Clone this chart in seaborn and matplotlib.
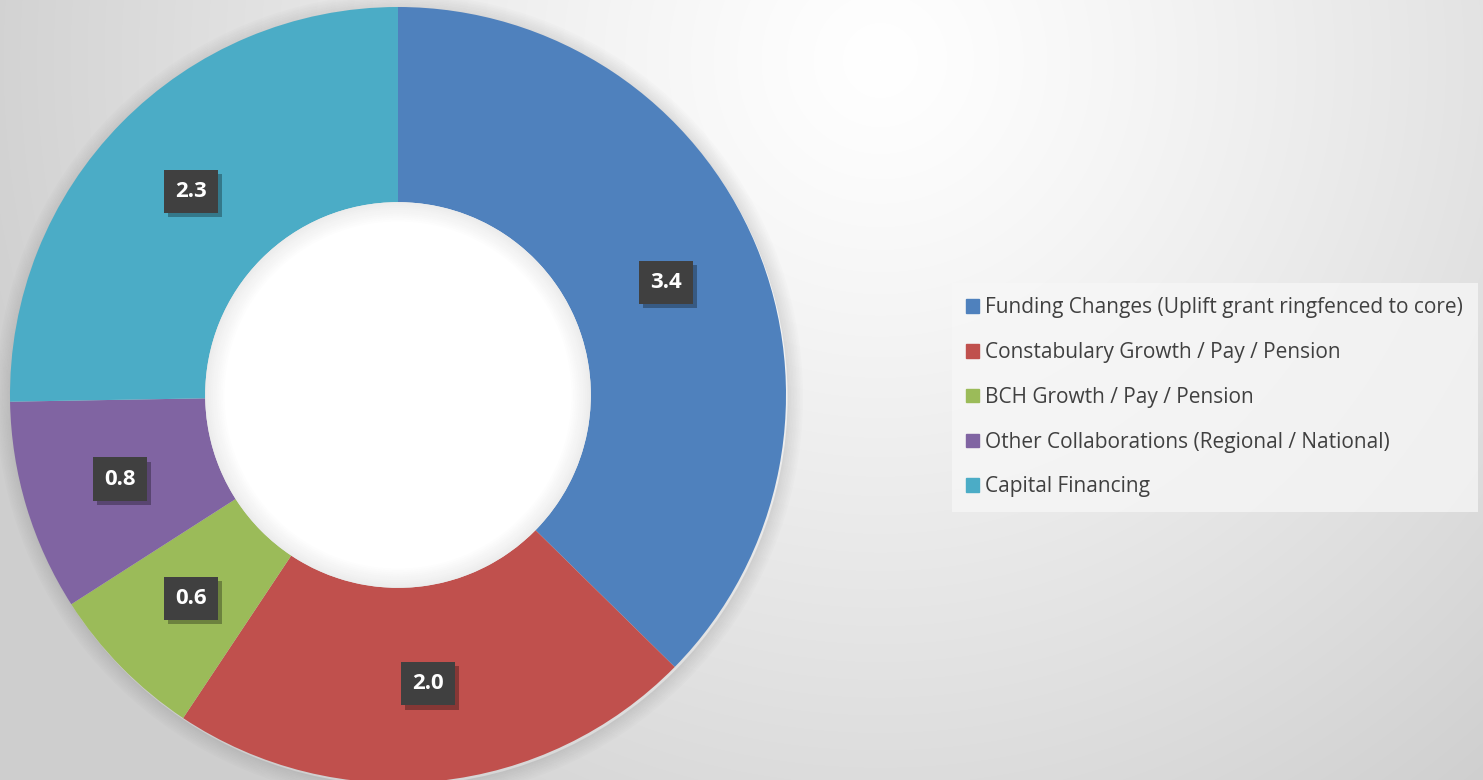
import numpy as np
import matplotlib
matplotlib.use("Agg")
import matplotlib.pyplot as plt
import matplotlib.patches as mpatches
import matplotlib.patheffects as pe
import seaborn as sns

categories = [
    "Funding Changes (Uplift grant ringfenced to core)",
    "Constabulary Growth / Pay / Pension",
    "BCH Growth / Pay / Pension",
    "Other Collaborations (Regional / National)",
    "Capital Financing",
]
values = [3.4, 2.0, 0.6, 0.8, 2.3]
colors = ["#4F81BD", "#C0504D", "#9BBB59", "#8064A2", "#4BACC6"]

sns.set_theme(style="white")
plt.rcParams["font.family"] = ["Open Sans", "DejaVu Sans"]

W, H = 1483, 780
fig = plt.figure(figsize=(W / 100, H / 100), dpi=100)

# background radial gradient
bg = fig.add_axes([0, 0, 1, 1])
yy, xx = np.mgrid[0:H, 0:W]
d = np.hypot(xx - 880, yy - 60) / 950.0
d = np.clip(d, 0, 1)
shade = 1.0 - 0.19 * d ** 1.2
img = np.dstack([shade, shade, shade])
bg.imshow(img, extent=[0, W, H, 0], aspect="auto", zorder=0)
bg.set_axis_off()

cx, cy, R = 398, 395, 388
ax = fig.add_axes([(cx - R) / W, (H - cy - R) / H, 2 * R / W, 2 * R / H])
ax.set_facecolor("none")

inner = 0.497

# soft outer shadow (rings just outside the donut)
n = 10
for i in range(n):
    r = 1.0 + 0.004 * (i + 1)
    ax.add_patch(mpatches.Wedge((0.004, -0.006), r, 0, 360, width=0.004,
                                facecolor="black", alpha=0.10 * (1 - i / n),
                                lw=0, zorder=0, clip_on=False))

wedges, texts, autotexts = ax.pie(
    values, colors=colors, startangle=90, counterclock=False,
    wedgeprops=dict(width=1 - inner, edgecolor="none"),
    autopct=lambda p: f"{p * sum(values) / 100:.1f}",
    pctdistance=(1 + inner) / 2,
    textprops=dict(color="white", fontsize=16, fontweight="bold"),
)
for wd in wedges:
    wd.set_zorder(2)

# white hole with soft inner shadow
ax.add_patch(mpatches.Circle((0, 0), inner, facecolor="white", lw=0, zorder=3))
for i in range(n):
    r = inner - 0.005 * i
    ax.add_patch(mpatches.Wedge((0, 0), r, 0, 360, width=0.005,
                                facecolor="black", alpha=0.075 * (1 - i / n),
                                lw=0, zorder=3.5))

for t in autotexts:
    t.set_zorder(5)
    t.set_bbox(dict(boxstyle="square,pad=0.5", facecolor="#404040", edgecolor="none"))
    t.get_bbox_patch().set_path_effects([
        pe.SimplePatchShadow(offset=(3, -3), shadow_rgbFace="black", alpha=0.3),
        pe.Normal(),
    ])
ax.set_xlim(-1, 1)
ax.set_ylim(-1, 1)
ax.set_aspect("equal")
ax.set_axis_off()

handles = [plt.Rectangle((0, 0), 1, 1, color=c) for c in colors]
leg = fig.legend(
    handles, categories, loc="upper left",
    bbox_to_anchor=(958 / W, 1 - 289 / H),
    frameon=True, fontsize=15, handlelength=0.62, handleheight=0.62,
    handletextpad=0.3, labelspacing=1.14, borderpad=0.4, borderaxespad=0,
)
leg.get_frame().set_facecolor("#f7f7f7")
leg.get_frame().set_alpha(0.75)
leg.get_frame().set_edgecolor("none")
leg.get_frame().set_boxstyle("square")
for t in leg.get_texts():
    t.set_color("#404040")

fig.savefig("out.png", dpi=100)
